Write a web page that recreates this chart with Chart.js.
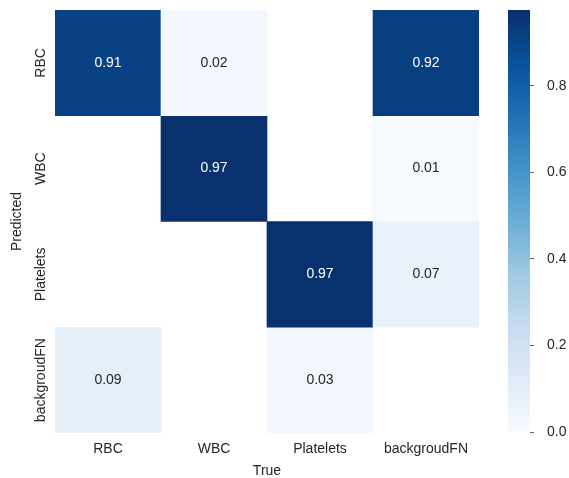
<!DOCTYPE html>
<html><head><meta charset="utf-8">
<script src="https://cdn.jsdelivr.net/npm/chart.js@4/dist/chart.umd.min.js"></script>
<style>
html,body{margin:0;padding:0;background:#fff;}
#wrap{position:relative;width:569px;height:478px;overflow:hidden;}
#hm{position:absolute;left:0;top:0;}
#cb{position:absolute;left:480px;top:0;}
</style></head><body>
<div id="wrap">
<canvas id="hm" width="480" height="478"></canvas>
<canvas id="cb" width="89" height="478"></canvas>
</div>
<script>
// ---- data ----
const trueLabels = ['RBC', 'WBC', 'Platelets', 'backgroudFN'];
const predictedLabels = ['RBC', 'WBC', 'Platelets', 'backgroudFN'];
const rowRBC = [0.91, 0.02, 0, 0.92];
const rowWBC = [0, 0.97, 0, 0.01];
const rowPlatelets = [0, 0, 0.97, 0.07];
const rowBackgroudFN = [0.09, 0, 0.03, 0];
const colorbarTicks = [0.0, 0.2, 0.4, 0.6, 0.8];
const colorMax = 0.975;

const rows = [rowRBC, rowWBC, rowPlatelets, rowBackgroudFN];

// matplotlib "Blues"
const bluesStops = ['#f7fbff','#deebf7','#c6dbef','#9ecae1','#6baed6','#4292c6','#2171b5','#08519c','#08306b'];
function hexToRgb(h){return [parseInt(h.slice(1,3),16),parseInt(h.slice(3,5),16),parseInt(h.slice(5,7),16)];}
function blues(t){
  t = Math.max(0, Math.min(1, t));
  const n = bluesStops.length - 1;
  const i = Math.min(n - 1, Math.floor(t * n));
  const f = t * n - i;
  const a = hexToRgb(bluesStops[i]), b = hexToRgb(bluesStops[i+1]);
  const c = a.map((v,k)=>Math.round(v + (b[k]-v)*f));
  return 'rgb(' + c.join(',') + ')';
}
function lum(t){
  const c = blues(t).match(/\d+/g).map(Number).map(v=>{v/=255;return v<=0.03928? v/12.92 : Math.pow((v+0.055)/1.055,2.4);});
  return 0.2126*c[0]+0.7152*c[1]+0.0722*c[2];
}

const FONT = "'Liberation Sans', Arial, sans-serif";
const TXT = '#262626';

const datasets = rows.map((vals, r) => ({
  label: predictedLabels[r],
  data: vals.map(v => v > 0 ? [r, r + 1] : null),
  values: vals,
  backgroundColor: vals.map(v => blues(v / colorMax)),
  borderWidth: 0,
  grouped: false,
  barPercentage: 1,
  categoryPercentage: 1
}));

const annotate = {
  id: 'annotate',
  afterDatasetsDraw(chart) {
    const ctx = chart.ctx;
    ctx.save();
    ctx.font = '14px ' + FONT;
    ctx.textAlign = 'center';
    ctx.textBaseline = 'middle';
    chart.data.datasets.forEach((ds, di) => {
      const meta = chart.getDatasetMeta(di);
      meta.data.forEach((el, ci) => {
        const v = ds.values[ci];
        if (!(v > 0)) return;
        const cy = (el.y + el.base) / 2;
        ctx.fillStyle = lum(v / colorMax) > 0.408 ? TXT : '#ffffff';
        ctx.fillText(v.toFixed(2), el.x, cy);
      });
    });
    ctx.restore();
  },
  afterDraw(chart) {
    const ctx = chart.ctx;
    const ys = chart.scales.y;
    ctx.save();
    ctx.font = '14px ' + FONT;
    ctx.fillStyle = TXT;
    ctx.textAlign = 'center';
    ctx.textBaseline = 'middle';
    predictedLabels.forEach((lab, r) => {
      const py = ys.getPixelForValue(r + 0.5);
      ctx.save();
      ctx.translate(41, py);
      ctx.rotate(-Math.PI / 2);
      ctx.fillText(lab, 0, 0);
      ctx.restore();
    });
    ctx.restore();
  }
};

new Chart(document.getElementById('hm'), {
  type: 'bar',
  data: { labels: trueLabels, datasets },
  options: {
    responsive: false,
    animation: false,
    layout: { padding: { top: 10, right: 1, left: 0, bottom: 0 } },
    plugins: { legend: { display: false }, tooltip: { enabled: false } },
    scales: {
      x: {
        type: 'category',
        grid: { display: false, drawTicks: false },
        border: { display: false },
        ticks: { font: { size: 14, family: FONT }, color: TXT, padding: 8, maxRotation: 0 },
        title: { display: true, text: 'True', font: { size: 14, family: FONT, lineHeight: 1.0 }, color: TXT, padding: { top: 4, bottom: 0 } },
        afterFit(s) { s.height = 45; }
      },
      y: {
        type: 'linear', min: 0, max: 4, reverse: true,
        grid: { display: false, drawTicks: false },
        border: { display: false },
        ticks: { display: false },
        title: { display: true, text: 'Predicted', font: { size: 14, family: FONT }, color: TXT, padding: { top: 9, bottom: 4 } },
        afterFit(s) { s.width = 55; }
      }
    }
  },
  plugins: [annotate]
});

// ---- colorbar ----
function cbGradient(context) {
  const area = context.chart.chartArea;
  if (!area) return blues(1);
  const g = context.chart.ctx.createLinearGradient(0, area.bottom, 0, area.top);
  bluesStops.forEach((c, i) => g.addColorStop(i / (bluesStops.length - 1), c));
  return g;
}

new Chart(document.getElementById('cb'), {
  type: 'bar',
  data: { labels: [''], datasets: [{ data: [colorMax], backgroundColor: cbGradient, borderWidth: 0, barPercentage: 1, categoryPercentage: 1 }] },
  options: {
    responsive: false,
    animation: false,
    layout: { padding: { top: 10, right: 0, left: 28, bottom: 46 } },
    plugins: { legend: { display: false }, tooltip: { enabled: false } },
    scales: {
      x: { display: false },
      y: {
        position: 'right', min: 0, max: colorMax,
        afterBuildTicks(s) { s.ticks = colorbarTicks.map(v => ({ value: v })); },
        grid: { display: true, drawOnChartArea: false, drawTicks: true, tickLength: 4, color: '#666', tickWidth: 1 },
        border: { display: false },
        ticks: { font: { size: 14, family: FONT }, color: TXT, padding: 13, callback: v => v.toFixed(1) },
        afterFit(s) { s.width = 39; s.paddingTop = 0; s.paddingBottom = 0; }
      }
    }
  }
});
</script>
</body></html>
